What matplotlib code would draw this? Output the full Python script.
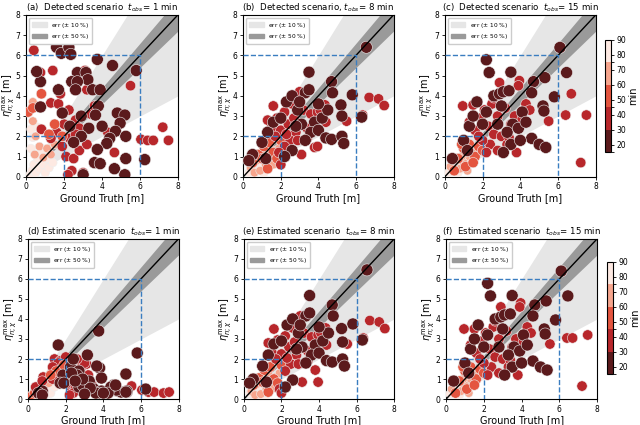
import numpy as np
import matplotlib
matplotlib.use("Agg")
import matplotlib.pyplot as plt
from matplotlib.colors import ListedColormap, BoundaryNorm
from matplotlib.patches import Patch

# ---- data ----
# t_obs = 1 min : ground truth, duration [min], prediction detected (a), estimated (d)
gt_1 = [0.2, 0.3, 0.4, 0.5, 0.6, 0.7, 0.8, 0.9, 1.0, 1.1, 1.2, 0.25, 0.35, 0.25, 0.6, 1.4,
        0.45, 0.7, 0.9, 1.1, 0.35, 0.35, 0.5, 1.3, 1.5, 0.1, 0.35, 0.8,
        0.8, 0.4, 0.75, 1.4, 1.3, 1.7, 1.8, 2.25, 3.1, 3.2, 2.6, 2.0, 1.6, 1.3, 1.9, 2.3, 2.8,
        3.4, 3.6, 2.1, 2.5, 2.8, 2.4, 2.2, 3.0, 3.2, 4.3, 4.65, 5.5, 6.05, 6.4, 6.7, 7.2, 7.5,
        1.5, 1.2, 1.9, 2.6,
        1.6, 1.85, 2.25, 2.35, 3.75, 4.55, 5.8, 2.7, 3.15, 3.25, 0.75, 0.55, 2.4, 2.7, 1.7,
        2.6, 3.5, 3.9, 3.8, 0.75, 1.9, 3.65, 4.8, 5.2, 4.95, 4.7, 5.25, 4.4, 4.25, 3.75, 5.25,
        3.6, 3.9, 6.25, 2.9, 2.3, 3.3, 2.9, 2.5, 4.0, 4.65, 3.0, 5.2]
dur_1 = [85] * 16 + [70] * 9 + [55] * 3 + [40] * 34 + [55] * 3 + [40] + [20] * 43
pred_a = [0.1, 0.3, 0.6, 0.2, 0.9, 0.4, 1.2, 0.6, 0.2, 0.9, 0.45, 1.4, 1.95, 2.35, 2.45, 0.7,
          1.1, 1.5, 0.95, 1.4, 3.7, 2.75, 2.0, 1.1, 1.6, 3.2, 3.4, 4.1,
          2.35, 6.25, 5.15, 5.25, 3.65, 3.6, 4.1, 3.3, 5.25, 4.3, 2.8, 2.6, 2.2, 1.9, 1.5, 1.9, 2.4,
          3.1, 3.5, 1.0, 0.9, 1.3, 0.3, 0.1, 0.2, 1.6, 2.2, 1.2, 4.5, 1.85, 1.8, 1.8, 2.45, 1.8,
          2.6, 2.1, 2.0, 2.1,
          6.4, 6.1, 6.4, 6.05, 5.8, 5.5, 5.25, 5.15, 5.15, 4.8, 4.7, 5.2, 4.7, 4.7, 4.3,
          4.3, 4.3, 4.3, 3.5, 3.45, 3.15, 3.05, 3.15, 3.05, 2.65, 2.25, 2.0, 1.9, 1.65, 1.35, 0.9,
          0.7, 0.65, 0.85, 3.0, 2.5, 2.4, 2.0, 1.7, 2.5, 0.4, 0.1, 0.1]
pred_d = [0.1, 0.2, 0.25, 0.15, 0.3, 0.2, 0.35, 0.4, 0.25, 0.5, 0.3, 0.3, 0.35, 0.2, 0.5, 0.6,
          0.45, 0.55, 0.7, 0.8, 0.15, 0.4, 0.3, 1.0, 0.9, 0.1, 0.3, 0.35,
          1.1, 0.6, 0.9, 2.0, 1.0, 1.9, 1.6, 1.3, 1.75, 1.2, 0.9, 2.1, 1.8, 1.6, 1.2, 0.6, 1.55,
          0.7, 0.35, 0.8, 0.5, 0.4, 0.3, 0.2, 1.8, 0.6, 0.35, 0.4, 0.65, 0.45, 0.35, 0.35, 0.3, 0.35,
          1.4, 1.2, 1.7, 2.0,
          2.7, 1.2, 1.6, 1.0, 3.4, 0.7, 2.3, 1.4, 2.2, 0.9, 0.4, 0.3, 2.0, 0.6, 0.8,
          1.2, 0.5, 0.4, 1.55, 0.2, 0.8, 1.65, 0.4, 1.25, 0.35, 0.45, 0.35, 0.6, 0.3, 0.3, 0.4,
          0.3, 1.05, 0.5, 0.7, 1.3, 0.55, 1.0, 0.9, 0.3, 0.7, 0.25, 0.35]

# t_obs = 8 min : detected (b), estimated (e)
gt_8 = [0.3, 0.5, 0.7, 0.8, 1.0, 1.2, 0.6, 1.1, 1.4, 0.9,
        0.4, 0.6, 0.9, 1.0, 1.3, 1.5, 1.7, 1.2, 0.7, 1.6, 1.9,
        0.5, 0.8, 1.1, 1.4, 1.6, 1.8, 2.0, 1.3, 1.0,
        1.6, 1.3, 1.5, 1.8, 2.0, 2.2, 2.4, 2.6, 2.7, 3.0, 3.2, 2.8, 2.5, 2.2, 1.9, 2.0, 2.9,
        3.1, 3.4, 3.6, 3.95, 4.1, 4.35, 3.8, 3.95, 5.5, 6.35, 6.7, 7.2, 7.5, 4.4, 3.4, 2.3, 1.7,
        0.5, 0.3, 1.0, 1.3, 1.6, 2.0, 2.3, 2.6, 2.9, 3.1, 3.3, 3.5, 3.5, 3.8, 3.6, 3.3, 4.0,
        4.2, 4.7, 4.75, 5.8, 6.55, 5.2, 5.25, 6.3, 4.4, 4.7, 5.25, 5.35, 2.6, 2.2, 1.2, 2.8,
        4.5, 3.0, 4.0]
dur_8 = [85] * 10 + [70] * 11 + [55] * 9 + [40] * 34 + [20] * 36
pred_b = [0.2, 0.5, 0.3, 0.7, 0.5, 0.9, 0.9, 0.2, 0.6, 1.1,
          0.45, 0.2, 0.3, 1.2, 1.4, 1.0, 1.3, 0.6, 0.8, 0.6, 1.4,
          0.7, 1.1, 1.5, 1.7, 1.2, 0.9, 1.8, 0.4, 0.9,
          3.5, 2.8, 2.4, 2.9, 2.3, 3.2, 2.6, 3.6, 2.9, 4.2, 3.3, 2.2, 1.8, 1.5, 1.2, 0.6, 1.8,
          1.1, 2.4, 3.1, 3.2, 3.3, 3.55, 1.45, 1.5, 2.75, 3.05, 3.92, 3.85, 3.52, 2.7, 1.9, 2.1, 2.0,
          1.1, 0.8, 1.7, 2.2, 2.7, 2.9, 3.7, 4.0, 3.3, 2.6, 4.15, 5.17, 4.3, 2.7, 2.2, 1.8, 2.3,
          2.9, 4.7, 4.15, 4.05, 6.4, 3.55, 3.0, 2.95, 1.92, 1.85, 2.0, 1.65, 1.3, 1.0, 0.9, 2.5,
          3.3, 3.7, 3.6]
pred_e = [0.3, 0.2, 0.1, 0.6, 0.3, 0.8, 0.9, 0.1, 0.5, 1.0,
          0.4, 0.2, 0.25, 1.1, 1.3, 0.9, 1.1, 0.5, 0.75, 0.55, 1.3,
          0.7, 1.05, 1.45, 1.6, 1.0, 0.8, 1.7, 0.35, 0.85,
          3.5, 2.8, 2.3, 2.95, 2.25, 3.15, 2.6, 3.55, 2.85, 4.15, 3.3, 2.2, 1.75, 1.4, 0.5, 0.3, 1.75,
          0.85, 2.4, 3.1, 3.2, 3.3, 3.55, 1.45, 0.85, 2.75, 3.05, 3.92, 3.85, 3.52, 2.7, 1.9, 2.05, 2.0,
          1.0, 0.8, 1.65, 2.2, 2.75, 2.9, 3.7, 4.0, 3.3, 2.6, 4.15, 5.17, 4.3, 2.7, 2.2, 1.8, 2.3,
          2.9, 4.7, 4.15, 3.75, 6.45, 3.52, 2.85, 2.95, 1.92, 1.85, 2.0, 1.65, 0.95, 0.6, 0.85, 2.5,
          3.3, 3.7, 3.6]

# t_obs = 15 min : detected (c), estimated (f)
gt_15 = [0.2, 0.4, 0.6, 0.8, 1.0, 0.9, 1.2, 0.7, 1.4, 0.5,
         0.3, 0.6, 0.8, 1.0, 1.1, 1.3, 1.5, 0.9, 1.7, 1.2,
         0.5, 0.7, 1.0, 1.3, 1.6, 1.8, 2.0, 1.1, 0.9, 1.5,
         0.95, 1.5, 1.3, 1.6, 1.9, 2.1, 2.3, 2.5, 2.8, 2.9, 3.2, 2.6, 2.4, 2.2, 2.0, 2.8, 3.0,
         3.3, 3.5, 3.7, 3.95, 3.9, 4.1, 4.3, 3.8, 5.5, 6.4, 6.7, 7.5, 7.2, 4.5, 3.4, 2.6, 1.8,
         0.4, 1.0, 1.3, 1.5, 1.7, 2.2, 2.35, 2.2, 2.6, 2.9, 3.1, 3.5, 3.4, 3.6, 3.3, 3.9, 4.1,
         4.3, 4.7, 5.3, 5.8, 6.1, 6.45, 5.2, 5.25, 4.6, 5.0, 5.35, 3.5, 2.8, 2.0, 4.0, 3.1,
         4.6, 1.2, 3.0]
dur_15 = [85] * 10 + [70] * 10 + [55] * 10 + [40] * 34 + [20] * 36
pred_c = [0.2, 0.4, 0.5, 0.9, 1.1, 0.6, 0.8, 0.2, 1.2, 0.8,
          0.5, 0.8, 0.4, 0.7, 1.3, 1.0, 1.4, 1.0, 1.3, 0.3,
          0.3, 0.9, 1.4, 1.6, 1.0, 1.5, 1.3, 0.5, 1.6, 0.7,
          3.5, 3.55, 2.7, 2.3, 2.9, 3.3, 2.5, 3.6, 3.0, 4.65, 3.4, 2.1, 1.6, 1.2, 1.8, 1.3, 2.0,
          1.6, 2.6, 3.0, 4.75, 4.5, 2.85, 3.6, 1.2, 2.75, 3.05, 4.1, 3.05, 0.7, 3.3, 1.95, 3.9, 2.0,
          0.9, 1.8, 2.5, 3.0, 3.7, 5.78, 5.15, 3.2, 4.0, 4.1, 4.2, 5.17, 4.25, 2.6, 2.2, 2.4, 3.2,
          2.7, 4.7, 4.9, 3.95, 6.39, 5.15, 3.5, 3.25, 1.9, 1.6, 1.45, 1.6, 2.6, 2.6, 1.8, 1.2,
          4.15, 1.3, 3.5]
pred_f = [0.25, 0.45, 0.6, 0.95, 1.15, 0.6, 0.85, 0.2, 1.2, 0.85,
          0.5, 0.8, 0.4, 0.7, 1.35, 1.0, 1.4, 1.0, 1.3, 0.3,
          0.3, 0.9, 1.4, 1.6, 1.0, 1.5, 1.3, 0.5, 1.6, 0.7,
          3.5, 3.5, 2.7, 2.3, 2.9, 3.3, 2.5, 3.6, 3.0, 4.6, 3.4, 2.1, 1.6, 1.2, 1.8, 1.3, 2.0,
          1.6, 2.6, 3.0, 4.8, 4.6, 2.85, 3.6, 1.2, 2.75, 3.05, 3.05, 3.2, 0.65, 3.3, 1.95, 3.9, 2.0,
          0.9, 1.8, 2.5, 3.0, 3.7, 5.78, 5.15, 3.2, 4.0, 4.1, 4.2, 5.17, 4.25, 2.6, 2.2, 2.4, 3.2,
          2.7, 4.7, 4.9, 3.95, 6.39, 5.15, 3.5, 3.25, 1.9, 1.6, 1.45, 1.6, 2.6, 2.6, 1.8, 1.2,
          4.15, 1.3, 3.5]

titles = ["(a)  Detected scenario  $t_{obs}$= 1 min",
          "(b)  Detected scenario, $t_{obs}$= 8 min",
          "(c)  Detected scenario  $t_{obs}$= 15 min",
          "(d) Estimated scenario  $t_{obs}$= 1 min",
          "(e) Estimated scenario  $t_{obs}$= 8 min",
          "(f)  Estimated scenario  $t_{obs}$= 15 min"]

panels = [(gt_1, dur_1, pred_a), (gt_8, dur_8, pred_b), (gt_15, dur_15, pred_c),
          (gt_1, dur_1, pred_d), (gt_8, dur_8, pred_e), (gt_15, dur_15, pred_f)]

cb_bounds = [15, 30, 45, 60, 75, 90]
cmap = ListedColormap(["#5b1a1c", "#b8272b", "#e4553f", "#f6a58d", "#fde9e2"])
norm = BoundaryNorm(cb_bounds, cmap.N)

# axes positions [left, bottom, width, height] in figure fraction
positions = [[0.041, 0.584, 0.237, 0.381], [0.380, 0.584, 0.235, 0.381], [0.695, 0.584, 0.236, 0.381],
             [0.044, 0.061, 0.235, 0.377], [0.381, 0.061, 0.235, 0.377], [0.697, 0.061, 0.236, 0.377]]

fig = plt.figure(figsize=(6.4, 4.25), dpi=100)
xs = np.linspace(0, 8, 50)

for i, (gt, dur, pred) in enumerate(panels):
    ax = fig.add_axes(positions[i])
    ax.fill_between(xs, 0.5 * xs, 1.5 * xs, color="#e6e6e6", lw=0, zorder=0)
    ax.fill_between(xs, 0.9 * xs, 1.1 * xs, color="#9a9a9a", lw=0, zorder=1)

    gt = np.asarray(gt)
    dur = np.asarray(dur)
    sizes = np.where(dur < 30, 75, np.where(dur < 60, 56, 38))
    ax.scatter(gt, pred, c=dur, cmap=cmap, norm=norm, s=sizes,
               edgecolors="#eeeeee", linewidths=0.4, zorder=3)

    ax.plot([0, 8], [0, 8], color="black", lw=1, zorder=4)
    for v in (2, 6):
        ax.plot([0, v, v], [v, v, 0], color="#3a7dc0", ls="--", lw=1, zorder=5)

    ax.set_xlim(0, 8)
    ax.set_ylim(0, 8)
    ax.set_xticks([0, 2, 4, 6, 8])
    ax.set_yticks(range(9))
    ax.tick_params(labelsize=5.5, length=2.5, width=0.6, pad=1.5)
    ax.set_xlabel("Ground Truth [m]", fontsize=7, labelpad=1)
    ax.set_ylabel(r"$\eta_{n;\chi}^{\mathrm{max}}$ [m]", fontsize=7, labelpad=0)
    ax.set_title(titles[i], fontsize=6.2, pad=3)
    for sp in ax.spines.values():
        sp.set_linewidth(0.8)

    handles = [Patch(color="#e6e6e6", label="err ($\\pm$ 10 %)"),
               Patch(color="#9a9a9a", label="err ($\\pm$ 50 %)")]
    ax.legend(handles=handles, loc="upper left", fontsize=4.2, handlelength=2.5,
              handleheight=0.8, borderpad=0.5, labelspacing=0.4, framealpha=1,
              edgecolor="#cccccc")

    if i in (2, 5):
        if i == 2:
            cax = fig.add_axes([0.945, 0.642, 0.010, 0.264])
        else:
            cax = fig.add_axes([0.948, 0.120, 0.010, 0.264])
        sm = plt.cm.ScalarMappable(cmap=cmap, norm=norm)
        cb = fig.colorbar(sm, cax=cax, ticks=[20, 30, 40, 50, 60, 70, 80, 90])
        cb.ax.tick_params(labelsize=5.5, length=2.5, width=0.6, pad=1.5)
        cb.set_label("min", fontsize=7, labelpad=1)
        cb.outline.set_linewidth(0.8)

fig.savefig("out.png", dpi=100)
